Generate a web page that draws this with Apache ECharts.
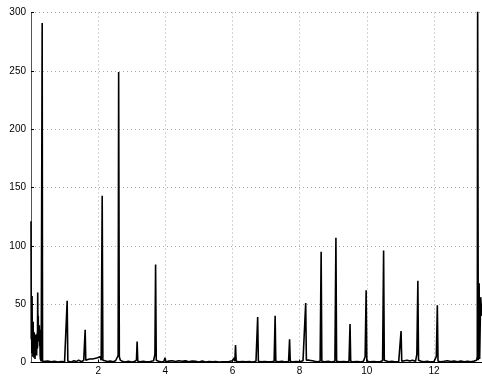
<!DOCTYPE html>
<html>
<head>
<meta charset="utf-8">
<script src="https://cdn.jsdelivr.net/npm/echarts@6/dist/echarts.min.js"></script>
<style>
html,body{margin:0;padding:0;background:#fff;}
#chart{width:482px;height:377px;}
</style>
</head>
<body>
<div id="chart"></div>
<script>
const xTicks = [0, 2, 4, 6, 8, 10, 12];
const yTicks = [0, 50, 100, 150, 200, 250, 300];

const freq = [
  0.00, 0.008, 0.016, 0.024, 0.032, 0.040, 0.048, 0.056, 0.064, 0.072, 0.080, 0.088, 0.096, 0.104, 0.112, 0.120, 0.128, 0.136, 0.144, 0.152, 0.160, 0.168, 0.176, 0.184, 0.192, 0.200, 0.208, 0.216, 0.224, 0.232, 0.240, 0.248, 0.256, 0.264, 0.272, 0.280, 0.288, 0.296, 0.304, 0.312, 0.322, 0.333, 0.344,
  0.40, 0.5, 0.6, 0.7, 0.8, 0.9, 1.0, 1.05,
  1.057, 1.077, 1.097,
  1.15, 1.2, 1.28, 1.35, 1.42, 1.5, 1.57,
  1.595, 1.613, 1.631,
  1.68, 1.74, 1.78, 1.82, 1.86, 1.9, 1.94, 1.98, 2.02, 2.06, 2.09,
  2.10, 2.12, 2.14,
  2.2, 2.28, 2.36, 2.44, 2.52, 2.57, 2.595,
  2.61, 2.63, 2.66,
  2.72, 2.8, 2.9, 3.0, 3.08, 3.14,
  3.16, 3.18,
  3.25, 3.35, 3.45, 3.55, 3.65, 3.69,
  3.71, 3.73,
  3.8, 3.9, 3.96, 3.99, 4.02, 4.1, 4.2, 4.3, 4.4, 4.5, 4.6, 4.7, 4.8, 4.9, 5.0, 5.1, 5.2, 5.3, 5.4, 5.5, 5.6, 5.7, 5.8, 5.9, 6.0, 6.05,
  6.07, 6.09, 6.11,
  6.2, 6.3, 6.4, 6.5, 6.6, 6.7, 6.73,
  6.75, 6.77,
  6.85, 6.95, 7.05, 7.15, 7.24,
  7.27, 7.29,
  7.37, 7.47, 7.57, 7.67,
  7.70, 7.72,
  7.8, 7.9, 8.0, 8.1, 8.15,
  8.18, 8.20, 8.24, 8.28, 8.33, 8.38, 8.45, 8.52, 8.61,
  8.64, 8.66,
  8.75, 8.85, 8.95, 9.05,
  9.08, 9.10,
  9.2, 9.3, 9.4, 9.47,
  9.50, 9.52,
  9.6, 9.7, 9.8, 9.9, 9.95,
  9.98, 10.0,
  10.1, 10.2, 10.3, 10.4, 10.47,
  10.50, 10.52, 10.55,
  10.65, 10.75, 10.85, 10.95, 10.99,
  11.02, 11.04,
  11.12, 11.2, 11.28, 11.36, 11.45, 11.49,
  11.52, 11.54,
  11.62, 11.7, 11.8, 11.9, 12.0, 12.07,
  12.10, 12.12,
  12.2, 12.3, 12.4, 12.5, 12.6, 12.7, 12.8, 12.9, 13.0, 13.1, 13.2, 13.27,
  13.29, 13.30, 13.32, 13.345, 13.36, 13.39, 13.43
];

const amplitude = [
  121, 20, 45, 8, 57, 10, 30, 5, 35, 12, 22, 4, 26, 9, 20, 3, 18, 7, 24, 10, 15, 6, 20, 25, 12, 60, 22, 40, 18, 30, 24, 32, 14, 28, 6, 3, 2, 1.5, 1, 0.8, 0.6, 291, 0.8,
  0.5, 1.2, 0.6, 1.0, 0.4, 0.9, 0.6, 1.5,
  1, 53, 1,
  2.0, 0.5, 1.5, 0.8, 2.0, 0.6, 1.8,
  1, 28, 2,
  1.2, 3, 2.5, 3, 1.5, 3.5, 2, 4, 2.5, 5, 2,
  3, 143, 2,
  1.5, 0.8, 1.2, 0.6, 1.5, 3, 6,
  249, 5, 2,
  1.0, 0.5, 1.0, 0.4, 0.8, 2,
  18, 1,
  0.6, 1.0, 0.5, 0.9, 1.5, 7,
  84, 2,
  1, 0.5, 1, 4, 0.5, 1.2, 1.5, 0.8, 1.5, 1.0, 1.4, 0.6, 1.3, 1.0, 0.5, 1.2, 0.4, 0.9, 0.5, 0.8, 0.4, 0.7, 0.5, 0.8, 1.5, 4,
  1, 15, 1,
  0.6, 0.9, 0.5, 0.8, 0.4, 1.0, 1,
  39, 1,
  0.6, 0.9, 0.5, 0.7, 1.0,
  40, 1,
  0.6, 1.0, 0.5, 0.8,
  20, 1,
  0.5, 0.8, 0.6, 1.5, 3,
  51, 2, 3, 2, 3, 1.5, 1, 0.6, 1,
  95, 1,
  0.6, 1, 0.5, 1,
  107, 1,
  0.6, 0.8, 0.5, 1,
  33, 1,
  0.5, 0.8, 0.5, 1.0, 5,
  62, 1,
  0.6, 0.9, 0.5, 0.8, 1.5,
  96, 2, 1,
  0.6, 1.0, 0.5, 0.8, 2,
  27, 1,
  1.5, 2, 1.2, 2, 1, 7,
  70, 2,
  1, 0.6, 1.0, 0.5, 0.8, 5,
  49, 1,
  0.6, 1.0, 1.5, 0.8, 1.2, 0.6, 1.3, 0.7, 1.0, 0.6, 1.2, 2,
  5, 320, 2, 68, 3, 56, 40
];

const points = freq.map((f, i) => [f, amplitude[i]]);

const chart = echarts.init(document.getElementById('chart'), null, {renderer: 'canvas'});
const labelFont = {fontFamily: 'Liberation Sans, Arial, sans-serif', fontSize: 10, color: '#000'};
chart.setOption({
  animation: false,
  backgroundColor: '#fff',
  grid: {left: 31, right: 0, top: 12.5, bottom: 14.5, containLabel: false},
  xAxis: {
    type: 'value', min: 0, max: 13.43, interval: 2,
    axisLine: {show: true, lineStyle: {color: '#000', width: 1}},
    axisTick: {show: true, inside: true, length: 3, lineStyle: {color: '#000'}},
    axisLabel: Object.assign({}, labelFont, {
      margin: 4, showMinLabel: false, showMaxLabel: false,
      formatter: v => (xTicks.includes(v) && v !== 0) ? String(v) : ''
    }),
    splitLine: {show: true, lineStyle: {color: '#aaa', type: [1, 3], width: 1}}
  },
  yAxis: {
    type: 'value', min: 0, max: 300, interval: 50,
    axisLine: {show: true, lineStyle: {color: '#555', width: 1}},
    axisTick: {show: true, inside: true, length: 3, lineStyle: {color: '#000'}},
    axisLabel: Object.assign({}, labelFont, {
      margin: 5,
      formatter: v => yTicks.includes(v) ? String(v) : ''
    }),
    splitLine: {show: true, lineStyle: {color: '#aaa', type: [1, 3], width: 1}}
  },
  series: [{
    type: 'line',
    data: points,
    showSymbol: false,
    symbol: 'none',
    clip: true,
    lineStyle: {color: '#000', width: 1.6},
    z: 3
  }]
});
</script>
</body>
</html>
